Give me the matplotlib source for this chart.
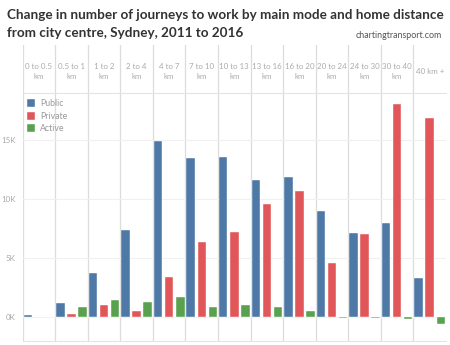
import numpy as np
import matplotlib
matplotlib.use("Agg")
import matplotlib.pyplot as plt
from matplotlib.patches import Patch

plt.rcParams['font.family'] = ['Lato', 'DejaVu Sans']

# distance bands (header labels)
bands = ["0 to 0.5\nkm", "0.5 to 1\nkm", "1 to 2\nkm", "2 to 4\nkm", "4 to 7\nkm",
         "7 to 10\nkm", "10 to 13\nkm", "13 to 16\nkm", "16 to 20\nkm",
         "20 to 24\nkm", "24 to 30\nkm", "30 to 40\nkm", "40 km +"]

# change in journeys 2011 -> 2016
public = [200, 1250, 3800, 7420, 14960, 13480, 13600, 11670, 11870, 9040, 7110, 7990, 3340]
private = [50, 280, 1050, 540, 3400, 6370, 7220, 9600, 10680, 4590, 7050, 18050, 16900]
active = [50, 850, 1500, 1300, 1730, 850, 1050, 850, 540, -80, -80, -170, -540]

series = [("Public", public, "#4e79a7"),
          ("Private", private, "#e15759"),
          ("Active", active, "#59a14f")]

fig = plt.figure(figsize=(4.5, 3.45), dpi=100)

ax = fig.add_axes([0.0504, 0.0116, 0.9407, 0.7188])
hdr = fig.add_axes([0.0504, 0.7304, 0.9407, 0.1392])

x = np.arange(len(bands))
w = 0.26
for i, (name, vals, col) in enumerate(series):
    ax.bar(x + (i - 1) * 0.34, vals, width=w, color=col,
           edgecolor="white", linewidth=0.3, label=name, zorder=3)

ax.set_xlim(-0.5, len(bands) - 0.5)
ax.set_ylim(-2000, 19000)
ax.set_yticks([0, 5000, 10000, 15000])
ax.set_yticklabels(["0K", "5K", "10K", "15K"])
ax.tick_params(axis="y", length=0, pad=5, labelsize=5.8, labelcolor="#aaaaaa")
ax.set_xticks([])
ax.grid(axis="y", color="#f0f0f0", linewidth=0.8, zorder=0)
for s in ["left", "right"]:
    ax.spines[s].set_visible(False)
for s in ["top", "bottom"]:
    ax.spines[s].set_color("#e4e4e4")
    ax.spines[s].set_linewidth(0.8)

for b in np.arange(len(bands)) - 0.5:
    ax.axvline(b, color="#dcdcdc", linewidth=0.9, zorder=1)
    hdr.axvline(b, color="#dcdcdc", linewidth=0.9)

hdr.set_xlim(-0.5, len(bands) - 0.5)
hdr.set_ylim(0, 1)
hdr.axis("off")
for i, lab in enumerate(bands):
    hdr.text(i, 0.45, lab, ha="center", va="center", fontsize=5.7,
             color="#aaaaaa", linespacing=1.5)

handles = [Patch(facecolor=c, edgecolor="white", linewidth=0.3, label=n) for n, v, c in series]
leg = ax.legend(handles=handles, loc="upper left", bbox_to_anchor=(-0.005, 1.0),
                frameon=False, fontsize=6.3, handlelength=1.0, handleheight=1.0,
                handletextpad=0.5, labelspacing=0.4, borderaxespad=0.3)
for t in leg.get_texts():
    t.set_color("#999999")

fig.text(0.016, 0.975, "Change in number of journeys to work by main mode and home distance",
         ha="left", va="top", fontsize=9.7, fontweight="bold", color="#333333")
fig.text(0.016, 0.923, "from city centre, Sydney, 2011 to 2016",
         ha="left", va="top", fontsize=9.7, fontweight="bold", color="#333333")
fig.text(0.982, 0.885, "chartingtransport.com", ha="right", va="bottom",
         fontsize=6.4, color="#555555")

fig.savefig("out.png", dpi=100)
